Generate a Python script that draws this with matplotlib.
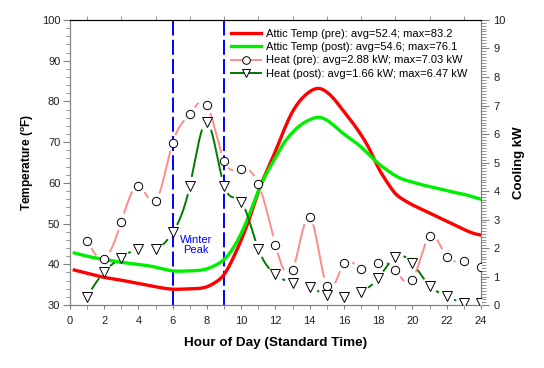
import numpy as np
import matplotlib
matplotlib.use('Agg')
import matplotlib.pyplot as plt
from matplotlib.ticker import MultipleLocator
from matplotlib.lines import Line2D

plt.rcParams['font.family'] = ['Liberation Sans', 'DejaVu Sans']

# attic temperature (deg F)
temp_hours = [0.25, 1, 2, 3, 4, 5, 6, 7, 8, 8.5, 9, 9.5, 10, 10.5, 11, 11.5, 12,
              12.5, 13, 13.5, 14, 14.5, 15, 15.5, 16, 16.5, 17, 17.5, 18, 18.5,
              19, 19.5, 20, 20.5, 21, 21.5, 22, 22.5, 23, 23.5, 24]
temp_pre = [38.6, 37.8, 36.8, 36.1, 35.3, 34.5, 33.9, 34.0, 34.5, 35.6, 37.5, 41.3,
            46.0, 51.5, 57.8, 63.0, 67.8, 73.0, 77.5, 80.5, 82.4, 83.2, 82.3, 80.2,
            77.5, 74.8, 71.8, 68.2, 63.8, 60.3, 57.4, 55.8, 54.6, 53.6, 52.6, 51.6,
            50.6, 49.6, 48.6, 47.7, 47.2]
temp_post = [42.8, 42.0, 41.2, 40.5, 40.0, 39.3, 38.4, 38.4, 38.9, 39.8, 41.2, 43.8,
             47.6, 52.5, 58.0, 62.5, 66.2, 69.8, 72.4, 74.3, 75.5, 76.1, 75.4, 73.8,
             72.0, 70.5, 68.8, 66.8, 64.8, 63.2, 61.8, 60.8, 60.2, 59.6, 59.1, 58.6,
             58.1, 57.6, 57.2, 56.6, 56.0]

# hourly cooling (kW)
heat_hours = list(range(1, 25))
heat_pre = [2.25, 1.63, 2.93, 4.19, 3.64, 5.70, 6.70, 7.02, 5.07, 4.78, 4.25, 2.12,
            1.23, 3.10, 0.67, 1.46, 1.26, 1.48, 1.23, 0.88, 2.42, 1.70, 1.56, 1.35]
heat_post = [0.30, 1.17, 1.66, 1.97, 1.97, 2.55, 4.19, 6.41, 4.19, 3.63, 1.97, 1.08,
             0.76, 0.62, 0.35, 0.29, 0.47, 0.94, 1.68, 1.47, 0.68, 0.32, 0.06, 0.08]

labels = ['Attic Temp (pre): avg=52.4; max=83.2',
          'Attic Temp (post): avg=54.6; max=76.1',
          'Heat (pre): avg=2.88 kW; max=7.03 kW',
          'Heat (post): avg=1.66 kW; max=6.47 kW']

GRAY = '#808080'
TXT = '#202020'


def spline(x, y, xs):
    """natural cubic spline through (x, y) evaluated at xs"""
    x = np.asarray(x, float)
    y = np.asarray(y, float)
    n = len(x)
    h = np.diff(x)
    A = np.zeros((n, n))
    rhs = np.zeros(n)
    A[0, 0] = A[-1, -1] = 1.0
    for i in range(1, n - 1):
        A[i, i - 1] = h[i - 1]
        A[i, i] = 2 * (h[i - 1] + h[i])
        A[i, i + 1] = h[i]
        rhs[i] = 6 * ((y[i + 1] - y[i]) / h[i] - (y[i] - y[i - 1]) / h[i - 1])
    M = np.linalg.solve(A, rhs)
    i = np.clip(np.searchsorted(x, xs) - 1, 0, n - 2)
    t0 = xs - x[i]
    t1 = x[i + 1] - xs
    hi = h[i]
    return (M[i] * t1 ** 3 / (6 * hi) + M[i + 1] * t0 ** 3 / (6 * hi)
            + (y[i] / hi - M[i] * hi / 6) * t1 + (y[i + 1] / hi - M[i + 1] * hi / 6) * t0)


def smooth(x, y, num=800):
    xs = np.linspace(x[0], x[-1], num)
    return xs, spline(x, y, xs)


def gapped(ax, x, y, radius=9):
    """smooth curve with gaps around the symbols (display pixels)"""
    xs, ys = smooth(x, y, 1200)
    pts = ax.transData.transform(np.column_stack([xs, ys]))
    mk = ax.transData.transform(np.column_stack([x, y]))
    d = np.sqrt(((pts[:, None, :] - mk[None, :, :]) ** 2).sum(-1)).min(axis=1)
    ys = ys.copy()
    ys[d < radius] = np.nan
    return xs, ys


fig, ax = plt.subplots(figsize=(5.44, 3.68), dpi=100)
fig.subplots_adjust(left=0.1287, right=0.884, bottom=0.171, top=0.9457)
ax2 = ax.twinx()

ax.set_xlim(0, 24)
ax.set_ylim(30, 100)
ax2.set_ylim(0, 10)

ax.axvline(6, color='#0000ff', lw=1.4, dashes=(7.7, 2.2), zorder=1)
ax.axvline(9, color='#0000ff', lw=1.4, dashes=(7.7, 2.2), zorder=1)
ax.text(7.35, 44.8, 'Winter\nPeak', color='#0000ff', fontsize=8,
        ha='center', va='center', linespacing=1.0)

ax.plot(*smooth(temp_hours, temp_pre), color='#ff0000', lw=2.4, zorder=2)
ax.plot(*smooth(temp_hours, temp_post), color='#00ee00', lw=2.4, zorder=2)

pink = '#ff8c8c'
dgreen = '#007a00'
xs, ys = gapped(ax2, heat_hours, heat_pre)
ax2.plot(xs, ys, color=pink, lw=1.4, zorder=2)
ax2.plot(heat_hours, heat_pre, ls='none', marker='o', ms=6, mfc='white',
         mec='black', mew=0.7, zorder=4)
xs, ys = gapped(ax2, heat_hours, heat_post)
ax2.plot(xs, ys, color=dgreen, lw=1.4, zorder=2)
ax2.plot(heat_hours, heat_post, ls='none', marker='v', ms=6.5, mfc='white',
         mec='black', mew=0.7, zorder=4)

# ticks and spines
ax.xaxis.set_major_locator(MultipleLocator(2))
ax.xaxis.set_minor_locator(MultipleLocator(1))
ax.yaxis.set_major_locator(MultipleLocator(10))
ax.yaxis.set_minor_locator(MultipleLocator(2))
ax2.yaxis.set_major_locator(MultipleLocator(1))
ax2.yaxis.set_minor_locator(MultipleLocator(0.1))

ax.tick_params(axis='x', which='major', direction='out', length=3, color=GRAY,
               labelsize=8, labelcolor=TXT, top=False, pad=5)
ax.tick_params(axis='x', which='minor', direction='out', length=3, color=GRAY,
               top=True, bottom=True)
ax.tick_params(axis='y', which='major', direction='out', length=5, color=GRAY,
               labelsize=8, labelcolor=TXT, pad=2)
ax.tick_params(axis='y', which='minor', direction='out', length=3, color=GRAY)
ax2.tick_params(axis='y', which='major', direction='out', length=6, color=GRAY,
                labelsize=8, labelcolor=TXT, pad=3)
ax2.tick_params(axis='y', which='minor', direction='out', length=3.3, color=GRAY,
                width=0.6)

for a in (ax, ax2):
    for side in ('left', 'right', 'bottom'):
        a.spines[side].set_color(GRAY)
    a.spines['top'].set_color('black')

ax.set_xlabel('Hour of Day (Standard Time)', fontsize=9.7, fontweight='bold',
              labelpad=8)
ax.set_ylabel(r'Temperature ($\mathregular{^{o}}$F)', fontsize=8.6,
              fontweight='bold', labelpad=4)
ax2.set_ylabel('Cooling kW', fontsize=9.5, fontweight='bold', labelpad=5)

handles = [
    Line2D([], [], color='#ff0000', lw=2.4),
    Line2D([], [], color='#00ee00', lw=2.4),
    Line2D([], [], color=pink, lw=1.4, marker='o', ms=5.5, mfc='white',
           mec='black', mew=0.7),
    Line2D([], [], color=dgreen, lw=1.4, marker='v', ms=5.5, mfc='white',
           mec='black', mew=0.7),
]
ax2.legend(handles, labels, loc='upper left', bbox_to_anchor=(0.392, 0.969),
           frameon=False, fontsize=8, handlelength=2.7, handletextpad=0.45,
           labelspacing=0.3, borderaxespad=0, borderpad=0)

fig.savefig('out.png', dpi=100)
